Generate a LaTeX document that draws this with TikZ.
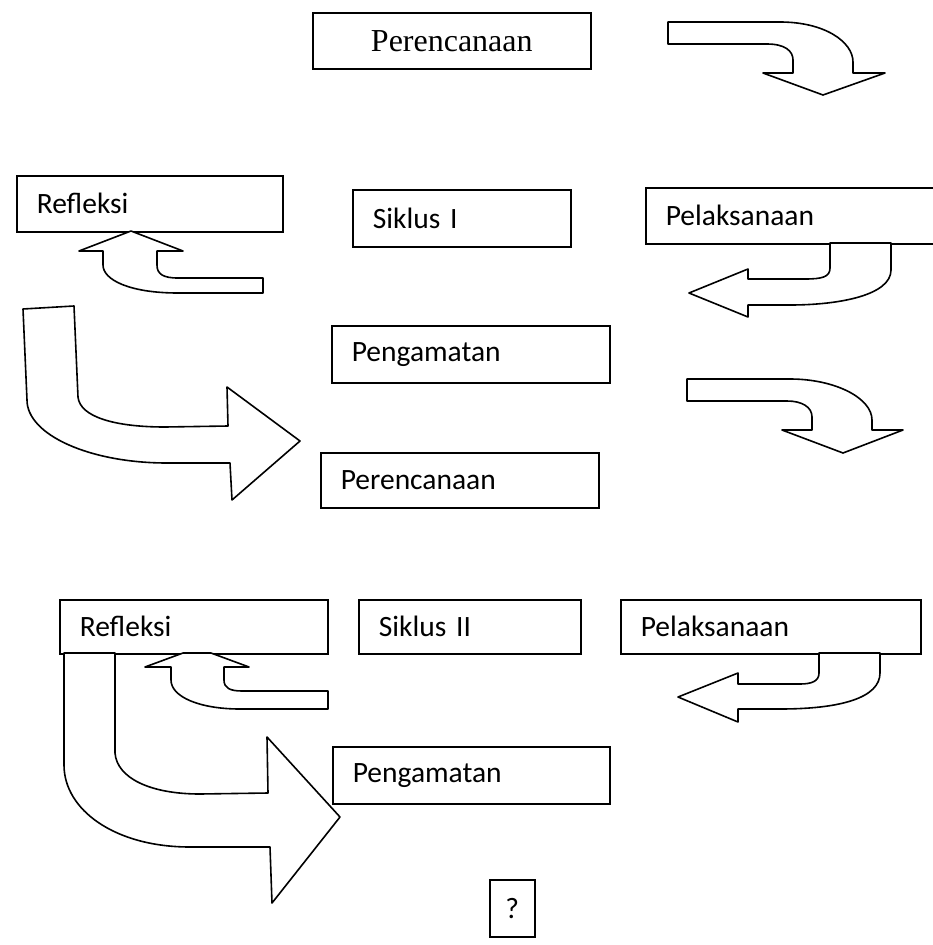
\documentclass[tikz,border=0pt]{standalone}
\usepackage{fontspec}
\newfontfamily\carlito{Carlito}
\newfontfamily\libserif{Liberation Serif}

\begin{document}
\begin{tikzpicture}[x=1pt,y=-1pt,
  box/.style={draw,line width=1.6pt,fill=white,anchor=north west,align=left,inner xsep=20pt,inner ysep=0pt,font=\carlito\fontsize{29.5}{34}\selectfont},
  bent/.style={draw,line width=1.6pt,line join=round,fill=white}]
\useasboundingbox (0,0) rectangle (933,945);

\node[box,text width=238pt,minimum height=56pt,align=center,font=\libserif\fontsize{32}{36}\selectfont] (pa) at (312,12) {Perencanaan};

\node[box,text width=226pt,minimum height=56pt] (ra) at (16,175) {Refleksi};
\node[box,text width=178pt,minimum height=57pt] (sa) at (352,189) {Siklus I};
\node[box,text width=249pt,minimum height=56pt] (la) at (645,187) {Pelaksanaan};
\node[box,text width=238pt,minimum height=57pt] (ga) at (331,325) {Pengamatan};
\node[box,text width=238pt,minimum height=55pt] (pb) at (320,452) {Perencanaan};

\node[box,text width=228pt,minimum height=54pt] (rb) at (59,599) {Refleksi};
\node[box,text width=182pt,minimum height=54pt] (sb) at (358,599) {Siklus II};
\node[box,text width=260pt,minimum height=54pt] (lb) at (620,599) {Pelaksanaan};
\node[box,text width=237pt,minimum height=57pt] (gb) at (332,746) {Pengamatan};

\node[box,text width=25pt,inner xsep=10pt,minimum height=57pt,align=center] (q) at (489,879) {?};

% siklus I
\path[bent] (668,22) -- (780,22) .. controls (825,22) and (853,42) .. (853,62) -- (853,73) -- (885,73) -- (823,95) -- (763,73) -- (793,73) -- (793,60) .. controls (793,51) and (785,44) .. (767,44) -- (668,44) -- cycle;
\path[bent] (830,243) -- (830,268) .. controls (830,277) and (822,279) .. (805,279) -- (748,279) -- (748,269) -- (689,293) -- (748,317) -- (748,305) -- (790,305) .. controls (840,305) and (891,295) .. (891,270) -- (891,243) -- cycle;
\path[bent] (79,251) -- (131,231) -- (183,251) -- (157,251) -- (157,265) .. controls (157,274) and (163,278) .. (178,278) -- (263,278) -- (263,293) -- (178,293) .. controls (130,293) and (103,280) .. (103,265) -- (103,251) -- cycle;
\path[bent] (23,309) -- (74,306) -- (78,397) .. controls (80,417) and (115,427) .. (165,427) -- (228,426) -- (227,387) -- (300,441) -- (232,500) -- (230,463) -- (167,463) .. controls (90,463) and (27,435) .. (27,400) -- cycle;
\path[bent] (687,379) -- (790,379) .. controls (835,379) and (872,398) .. (872,420) -- (872,430) -- (903,430) -- (843,453) -- (782,430) -- (812,430) -- (812,417) .. controls (812,407) and (802,401) .. (787,401) -- (687,401) -- cycle;

% siklus II
\path[bent] (819,653) -- (819,673) .. controls (819,681) and (812,684) .. (800,684) -- (738,684) -- (738,673) -- (678,697) -- (738,722) -- (738,709) -- (780,709) .. controls (840,709) and (880,698) .. (880,673) -- (880,653) -- cycle;
\path[bent] (145,667) -- (183,653) -- (211,653) -- (249,667) -- (224,667) -- (224,680) .. controls (224,688) and (230,691) .. (242,691) -- (328,691) -- (328,709) -- (240,709) .. controls (200,709) and (171,697) .. (171,680) -- (171,667) -- cycle;
\path[bent] (64,653) -- (115,653) -- (115,753) .. controls (117,778) and (150,794) .. (200,794) -- (268,793) -- (267,737) -- (340,817) -- (272,903) -- (270,847) -- (190,847) .. controls (115,847) and (64,810) .. (64,765) -- cycle;

\end{tikzpicture}
\end{document}
